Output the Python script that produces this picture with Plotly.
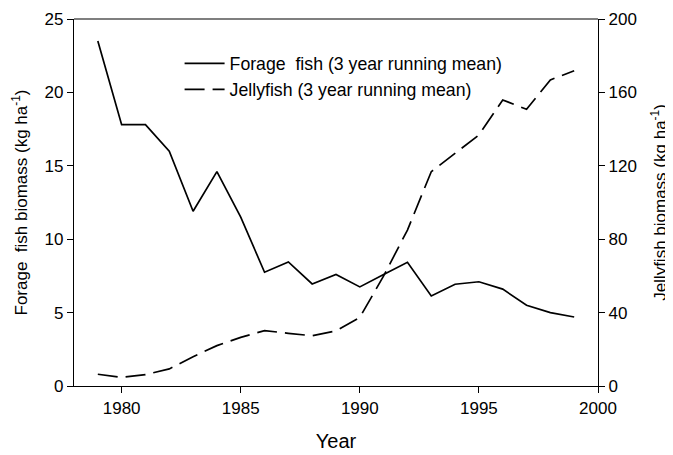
import plotly.graph_objects as go

years = list(range(1979, 2000))
forage_fish = [23.5, 17.8, 17.8, 16.0, 11.9, 14.6, 11.5, 7.75, 8.45, 6.95, 7.6, 6.75,
               7.6, 8.43, 6.13, 6.93, 7.1, 6.6, 5.5, 5.0, 4.7]
jellyfish = [6.4, 4.7, 6.2, 9.3, 16.0, 22.0, 26.5, 30.2, 28.7, 27.4, 30.0, 37.4,
             60.0, 85.0, 116.8, 126.8, 136.8, 155.9, 150.8, 166.8, 171.8]

left_ticks = [0, 5, 10, 15, 20, 25]
right_ticks = [0, 40, 80, 120, 160, 200]
x_ticks = [1980, 1985, 1990, 1995, 2000]

FONT = "Liberation Sans, Arial, Helvetica, sans-serif"

fig = go.Figure()
fig.add_trace(go.Scatter(
    x=years, y=forage_fish, mode="lines",
    name="Forage\u00a0\u00a0fish (3 year running mean)",
    line=dict(color="black", width=1.7), yaxis="y"))
fig.add_trace(go.Scatter(
    x=years, y=jellyfish, mode="lines",
    name="Jellyfish (3 year running mean)",
    line=dict(color="black", width=1.7, dash="20px,8px"), yaxis="y2"))

axis_common = dict(showgrid=False, zeroline=False, showline=True, linecolor="black",
                   linewidth=1.2, ticks="outside", ticklen=6, tickcolor="black",
                   automargin=False,
                   tickfont=dict(size=17, color="black", family=FONT))

# The page body has an 8px margin, so the figure is sized to fit the window.
fig.update_layout(
    width=665, height=447,
    margin=dict(l=66, r=75, t=11, b=69),
    paper_bgcolor="white", plot_bgcolor="white",
    font=dict(family=FONT, color="black"),
    xaxis=dict(range=[1978, 2000], tickvals=x_ticks, mirror=False,
               title=dict(text="Year", font=dict(size=20), standoff=17),
               **axis_common),
    yaxis=dict(range=[0, 25], tickvals=left_ticks,
               title=dict(text="Forage\u00a0\u00a0fish biomass (kg ha<sup>-1</sup>)",
                          font=dict(size=17), standoff=12),
               **axis_common),
    yaxis2=dict(range=[0, 200], tickvals=right_ticks, overlaying="y", side="right",
                title=dict(text="Jellyfish biomass (kg ha<sup>-1</sup>)",
                           font=dict(size=17), standoff=18),
                **axis_common),
    legend=dict(x=0.2015, y=0.928, xanchor="left", yanchor="top",
                bgcolor="rgba(0,0,0,0)", font=dict(size=17.7, family=FONT),
                itemwidth=40, tracegroupgap=0),
    showlegend=True,
)
# top frame line
fig.add_shape(type="line", xref="paper", yref="paper", x0=0, x1=1, y0=1, y1=1,
              line=dict(color="black", width=1.2))

fig.write_html("out.html")
